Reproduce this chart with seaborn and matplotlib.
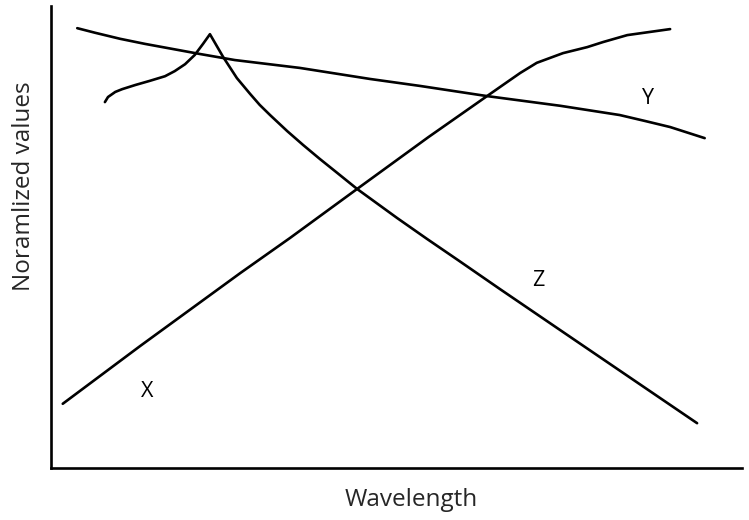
import numpy as np
import pandas as pd
import matplotlib
matplotlib.use("Agg")
import matplotlib.pyplot as plt
import seaborn as sns

# values (wavelength in arbitrary units, normalized 0..1)
x_wl = [1.7, 12.9, 27.4, 34.6, 44.3, 54.6, 63.1, 65.4, 67.9, 70.3, 74.1, 77.6, 79.9, 83.4, 89.6]
x_val = [0.139, 0.264, 0.422, 0.498, 0.604, 0.716, 0.805, 0.829, 0.855, 0.877, 0.898, 0.911,
         0.922, 0.937, 0.950]

y_wl = [3.8, 6.4, 10.0, 13.6, 21.6, 26.6, 36.0, 46.2, 53.4, 63.1, 73.7, 82.3, 86.0, 89.6, 94.6]
y_val = [0.952, 0.942, 0.929, 0.918, 0.896, 0.883, 0.866, 0.842, 0.827, 0.805, 0.784,
         0.764, 0.751, 0.738, 0.714]

z_wl = [7.8, 8.25, 9.3, 10.3, 12.2, 14.3, 16.5, 17.9, 19.4, 20.8, 22.0, 23.0,
        24.9, 26.9, 28.8, 30.2, 31.7, 34.2, 36.5, 38.9, 41.4, 44.3, 50.1, 54.4,
        58.9, 65.0, 75.8, 93.5]
z_val = [0.792, 0.803, 0.814, 0.820, 0.829, 0.838, 0.848, 0.859, 0.874, 0.894, 0.918, 0.939,
         0.890, 0.844, 0.810, 0.786, 0.764, 0.729, 0.699, 0.669, 0.639, 0.604, 0.541, 0.496,
         0.450, 0.387, 0.277, 0.097]

labels = ["X", "Y", "Z"]
label_pos = [(13.9, 0.165), (86.4, 0.799), (70.5, 0.405)]

sns.set_style("white")
plt.rcParams['font.family'] = ['Open Sans', 'DejaVu Sans']

df = pd.concat([
    pd.DataFrame({"wl": x_wl, "val": x_val, "curve": "X"}),
    pd.DataFrame({"wl": y_wl, "val": y_val, "curve": "Y"}),
    pd.DataFrame({"wl": z_wl, "val": z_val, "curve": "Z"}),
])

fig = plt.figure(figsize=(7.49, 5.20), dpi=100)
ax = fig.add_axes([51 / 749, 52 / 520, 691 / 749, 462 / 520])

sns.lineplot(data=df, x="wl", y="val", units="curve", estimator=None, sort=False,
             color="black", linewidth=1.9, ax=ax)
for line in ax.get_lines():
    line.set_solid_joinstyle("round")
    line.set_solid_capstyle("round")

for name, (px, py) in zip(labels, label_pos):
    ax.text(px, py, name, fontsize=15.5, ha="center", va="center", color="black")

ax.set_xlim(0, 100)
ax.set_ylim(0, 1)
ax.set_xticks([])
ax.set_yticks([])
ax.set_xlabel("")
ax.set_ylabel("")
sns.despine(ax=ax)
for s in ["left", "bottom"]:
    ax.spines[s].set_color("black")
    ax.spines[s].set_linewidth(1.9)

fig.text(411 / 749, 1 - 500 / 520, "Wavelength", fontsize=17.5, ha="center", va="center")
fig.text(24 / 749, 1 - 186 / 520, "Noramlized values", fontsize=17.5, rotation=90,
         ha="center", va="center")

fig.savefig("out.png", dpi=100)
